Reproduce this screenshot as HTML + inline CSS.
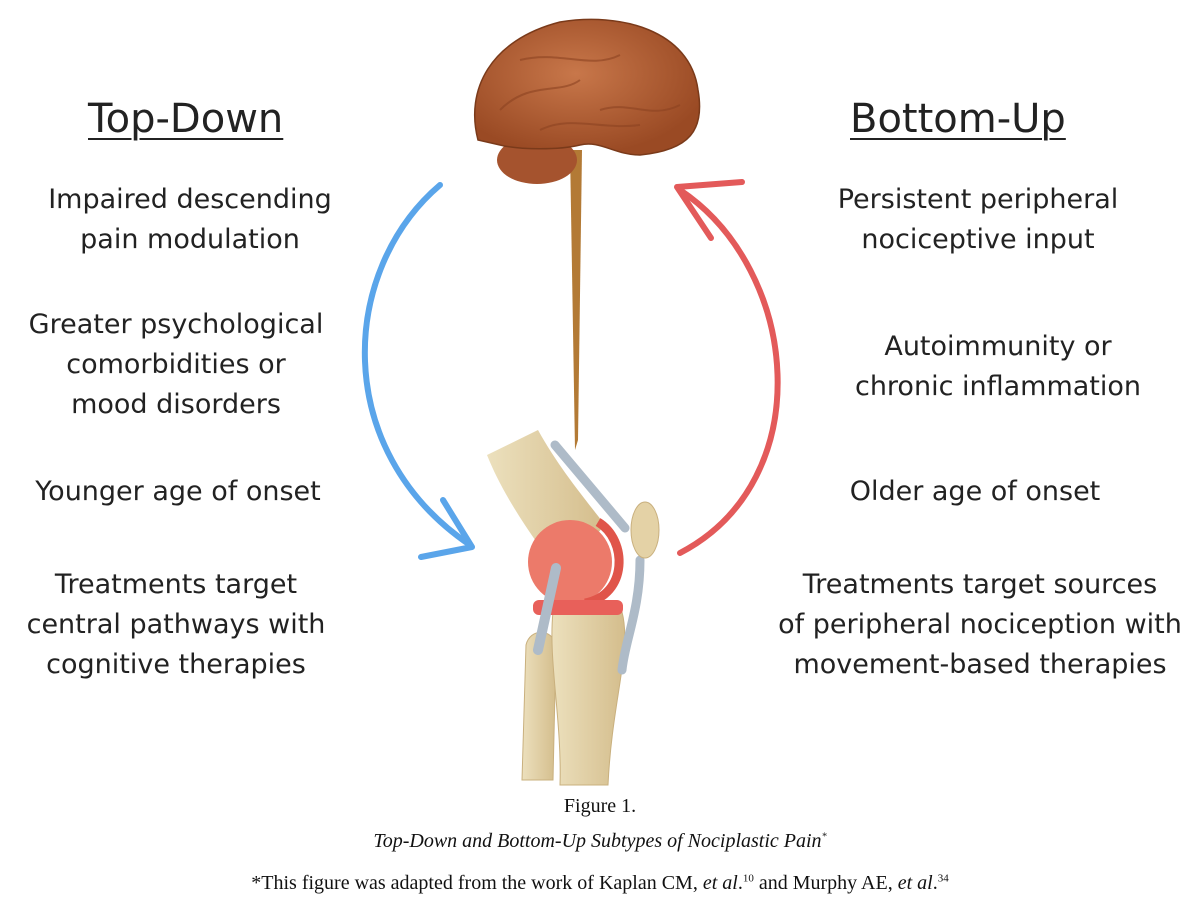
<!DOCTYPE html>
<html><head><style>
body{margin:0;width:1200px;height:922px;background:#fff;position:relative;overflow:hidden;font-family:"DejaVu Sans","Liberation Sans",sans-serif;color:#222}
.t{position:absolute;text-align:center;font-size:27px;line-height:40px;white-space:nowrap}
.h{position:absolute;font-size:40px;text-decoration:underline;text-decoration-thickness:2px;text-underline-offset:6px}
.c{position:absolute;width:1200px;left:0;text-align:center;font-family:"Liberation Serif",serif;color:#111}
</style></head><body>
<svg width="1200" height="922" style="position:absolute;left:0;top:0">
<defs>
<radialGradient id="br" cx="45%" cy="40%" r="60%"><stop offset="0" stop-color="#c8774a"/><stop offset="1" stop-color="#9a4a24"/></radialGradient>
<linearGradient id="bone" x1="0" x2="1"><stop offset="0" stop-color="#ece0bd"/><stop offset="1" stop-color="#d4bd8c"/></linearGradient>
</defs>
<path d="M440 185 C 340 270, 330 450, 470 545" fill="none" stroke="#5aa5ea" stroke-width="6" stroke-linecap="round"/>
<path d="M443 500 L472 547 L421 557" fill="none" stroke="#5aa5ea" stroke-width="6" stroke-linecap="round" stroke-linejoin="round"/>
<path d="M680 553 C 820 480, 800 270, 680 190" fill="none" stroke="#e35a5a" stroke-width="6" stroke-linecap="round"/>
<path d="M742 182 L677 187 L711 238" fill="none" stroke="#e35a5a" stroke-width="6" stroke-linecap="round" stroke-linejoin="round"/>
<!-- brain -->
<path d="M570 150 L582 150 L578 440 L575 450 Z" fill="#b37a35"/>
<ellipse cx="537" cy="160" rx="40" ry="24" fill="#a5532e"/>
<path d="M478 140 C 465 90, 490 40, 560 22 C 620 12, 690 30, 698 90 C 705 130, 690 150, 640 155 C 615 155, 600 140, 580 145 C 560 150, 520 150, 500 145 Z" fill="url(#br)" stroke="#7a3a1a" stroke-width="1.5"/>
<path d="M500 110 C 530 80, 560 95, 580 80 M520 60 C 560 50, 590 70, 620 55 M600 110 C 630 100, 650 120, 680 105 M540 130 C 570 115, 600 130, 640 125" fill="none" stroke="#8c4222" stroke-width="2" opacity=".6"/>
<!-- knee -->
<path d="M522 780 L526 645 C 530 628, 552 628, 556 645 L553 780 Z" fill="url(#bone)" stroke="#c9b07e"/>
<path d="M553 612 L622 612 C 632 650, 612 700, 608 785 L560 785 C 562 720, 548 660, 553 612 Z" fill="url(#bone)" stroke="#c9b07e"/>
<path d="M487 455 L538 430 C 560 470, 590 505, 605 525 L560 575 C 535 540, 505 500, 487 455 Z" fill="url(#bone)"/>
<ellipse cx="570" cy="562" rx="42" ry="42" fill="#ec7a6a"/>
<path d="M598 522 C 628 540, 628 595, 585 603" fill="none" stroke="#e0554a" stroke-width="9"/>
<rect x="533" y="600" width="90" height="15" rx="6" fill="#e8605a"/>
<path d="M556 568 L538 650" stroke="#aebbc8" stroke-width="10" stroke-linecap="round"/>
<path d="M555 445 L625 528 M640 560 C 640 610, 625 640, 622 670" fill="none" stroke="#aebbc8" stroke-width="9" stroke-linecap="round"/>
<ellipse cx="645" cy="530" rx="14" ry="28" fill="#e4d2a6" stroke="#c9b07e"/>
</svg>
<div class="h" style="left:88px;top:96px">Top-Down</div>
<div class="h" style="left:850px;top:96px">Bottom-Up</div>
<div class="t" style="left:0;width:380px;top:180px">Impaired descending<br>pain modulation</div>
<div class="t" style="left:0;width:352px;top:305px">Greater psychological<br>comorbidities or<br>mood disorders</div>
<div class="t" style="left:0;width:356px;top:472px">Younger age of onset</div>
<div class="t" style="left:0;width:352px;top:565px">Treatments target<br>central pathways with<br>cognitive therapies</div>
<div class="t" style="left:780px;width:396px;top:180px">Persistent peripheral<br>nociceptive input</div>
<div class="t" style="left:780px;width:436px;top:327px">Autoimmunity or<br>chronic inflammation</div>
<div class="t" style="left:780px;width:390px;top:472px">Older age of onset</div>
<div class="t" style="left:770px;width:420px;top:565px">Treatments target sources<br>of peripheral nociception with<br>movement-based therapies</div>
<div class="c" style="top:795px;font-size:20px">Figure 1.</div>
<div class="c" style="top:830px;font-size:20px;font-style:italic">Top-Down and Bottom-Up Subtypes of Nociplastic Pain<sup style="font-size:10px">*</sup></div>
<div class="c" style="top:872px;font-size:20px">*This figure was adapted from the work of Kaplan CM, <i>et al</i>.<sup style="font-size:11px">10</sup> and Murphy AE, <i>et al</i>.<sup style="font-size:11px">34</sup></div>
</body></html>
